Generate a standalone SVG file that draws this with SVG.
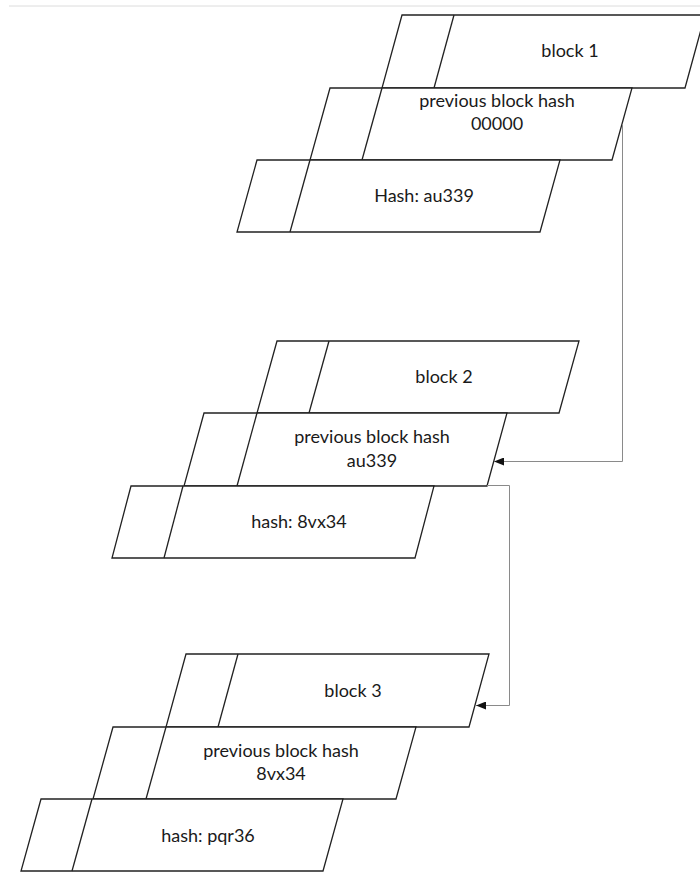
<svg xmlns="http://www.w3.org/2000/svg" width="700" height="872" viewBox="0 0 700 872">
<defs>
<style>
.sh{fill:#fff;stroke:#222;stroke-width:1.3;stroke-linejoin:miter}
.dv{fill:none;stroke:#222;stroke-width:1.3}
.tx{font-family:Lato,"Liberation Sans",sans-serif;font-size:18px;fill:#1a1a1a;text-anchor:middle}
.cn{fill:none;stroke:#8a8a8a;stroke-width:1}
</style>
<marker id="ah" viewBox="0 0 10 8" refX="10" refY="4" markerWidth="10" markerHeight="8" markerUnits="userSpaceOnUse" orient="auto">
<path d="M0,0 L10,4 L0,8 Z" fill="#111"/>
</marker>
</defs>
<rect width="700" height="872" fill="#fff"/>
<line x1="9" y1="6" x2="700" y2="6" stroke="#dcdcdc" stroke-width="1"/>
<g id="block1">
<polygon class="sh" points="402,15 705,15 685,88 382,88"/>
<line class="dv" x1="454" y1="15" x2="434" y2="88"/>
<polygon class="sh" points="330,88 632,88 612,160 310,160"/>
<line class="dv" x1="382" y1="88" x2="362" y2="160"/>
<polygon class="sh" points="257,160 560,160 540,232 237,232"/>
<line class="dv" x1="310" y1="160" x2="290" y2="232"/>
<text class="tx" x="570" y="57">block 1</text>
<text class="tx" x="497" y="107">previous block hash</text>
<text class="tx" x="497" y="130">00000</text>
<text class="tx" x="424" y="202">Hash: au339</text>
</g>
<g id="block2">
<polygon class="sh" points="277,341 579,341 559,413 257,413"/>
<line class="dv" x1="329" y1="341" x2="309" y2="413"/>
<polygon class="sh" points="204,413 507,413 487,486 184,486"/>
<line class="dv" x1="257" y1="413" x2="237" y2="486"/>
<polygon class="sh" points="131,486 434,486 415,558 112,558"/>
<line class="dv" x1="183" y1="486" x2="164" y2="558"/>
<text class="tx" x="444" y="383">block 2</text>
<text class="tx" x="372" y="443">previous block hash</text>
<text class="tx" x="372" y="467">au339</text>
<text class="tx" x="299" y="528">hash: 8vx34</text>
</g>
<g id="block3">
<polygon class="sh" points="186,654 489,654 469,727 166,727"/>
<line class="dv" x1="238" y1="654" x2="218" y2="727"/>
<polygon class="sh" points="113,727 416,727 396,799 93,799"/>
<line class="dv" x1="166" y1="727" x2="146" y2="799"/>
<polygon class="sh" points="41,799 343,799 323,871 21,871"/>
<line class="dv" x1="92" y1="799" x2="72" y2="871"/>
<text class="tx" x="353" y="697">block 3</text>
<text class="tx" x="281" y="757">previous block hash</text>
<text class="tx" x="281" y="780">8vx34</text>
<text class="tx" x="208" y="842">hash: pqr36</text>
</g>
<g id="connectors">
<path class="cn" d="M622.5,124 V461.5 H494" marker-end="url(#ah)"/>
<path class="cn" d="M487,485.5 H509.5 V705.5 H476" marker-end="url(#ah)"/>
</g>
</svg>
